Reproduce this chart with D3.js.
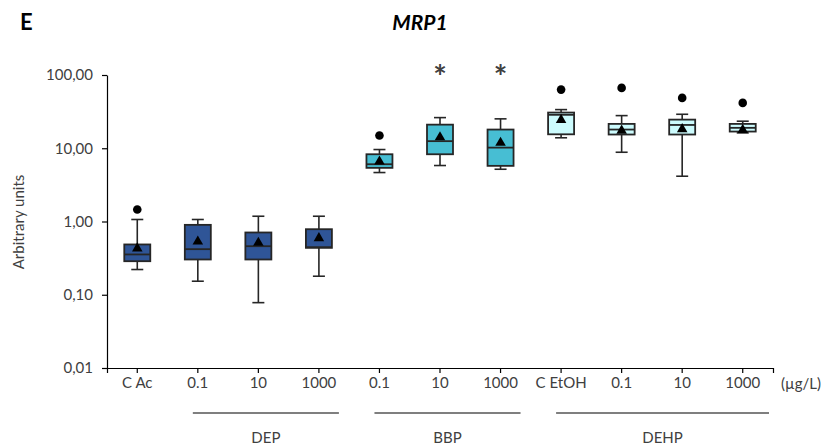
<!DOCTYPE html>
<html><head><meta charset="utf-8">
<script src="https://cdn.jsdelivr.net/npm/d3@7"></script>
<style>body{margin:0;background:#fff}svg{display:block}text{font-family:Lato,"Open Sans",sans-serif}</style>
</head><body><svg id="c" width="834" height="448"></svg>
<script>
const categories = ["C Ac","0.1","10","1000","0.1","10","1000","C EtOH","0.1","10","1000"];
const groupOf   = ["ctrlAc","DEP","DEP","DEP","BBP","BBP","BBP","ctrlEt","DEHP","DEHP","DEHP"];
const whiskerLow  = [0.221,0.153,0.078,0.179, 4.66,5.81,5.17, 13.9,8.82,4.15,16.2];
const q1          = [0.287,0.303,0.303,0.437, 5.40,8.28,5.75, 15.5,15.4,15.4,16.9];
const median      = [0.355,0.419,0.460,0.446, 6.05,12.5,10.2, 28.6,18.0,20.8,19.0];
const q3          = [0.486,0.900,0.708,0.785, 8.28,21.0,18.0, 30.7,21.5,24.6,21.5];
const whiskerHigh = [1.065,1.065,1.18,1.18,   9.6,26.2,25.2,  33.7,27.9,29.1,23.4];
const mean        = [0.43,0.533,0.512,0.592,  6.59,14.1,11.9, 24.4,17.4,18.2,17.8];
const outliers    = [[1.46],[],[],[], [14.9],[],[], [63.2],[66.7],[48.7],[41.6]];
const significant = [false,false,false,false,false,true,true,false,false,false,false];
const yTicks = [0.01,0.1,1,10,100];
const yTickLabels = ["0,01","0,10","1,00","10,00","100,00"];
const groups = [{name:"DEP",from:1,to:3},{name:"BBP",from:4,to:6},{name:"DEHP",from:7,to:10}];
const fillByGroup = {ctrlAc:"#2F5597",DEP:"#2F5597",BBP:"#47BED3",ctrlEt:"#CCFBFD",DEHP:"#CCFBFD"};

const svg = d3.select("#c");
const x = d3.scaleBand().domain(d3.range(categories.length)).range([107,773]).paddingInner(0).paddingOuter(0);
const y = d3.scaleLog().domain([0.01,100]).range([368,75]);
const cx = i => x(i) + x.bandwidth()/2;
const boxW = 26, capW = 12;
const ink = "#262626";
const txt = "#404040";

// Y axis
const yAxis = svg.append("g").attr("transform","translate(107,0)")
  .call(d3.axisLeft(y).tickValues(yTicks).tickFormat((d,i)=>yTickLabels[i]).tickSize(5).tickSizeOuter(0));
yAxis.select(".domain").attr("stroke","#000").attr("stroke-width",1.2);
yAxis.selectAll(".tick line").attr("stroke","#000").attr("stroke-width",1.2);
yAxis.selectAll(".tick text").attr("font-size",15).attr("fill",txt).attr("x",-14).attr("font-family","Lato");

// X axis
const xAxis = svg.append("g").attr("transform","translate(0,368)")
  .call(d3.axisBottom(x).tickFormat(i=>categories[i]).tickSize(5).tickSizeOuter(5));
xAxis.select(".domain").attr("stroke","#000").attr("stroke-width",1.2);
xAxis.selectAll(".tick line").attr("stroke","#000").attr("stroke-width",1.2);
xAxis.selectAll(".tick text").attr("font-size",15).attr("fill",txt).attr("y",9).attr("font-family","Lato");

svg.append("text").attr("x",781).attr("y",389).attr("font-size",15).attr("fill",txt).text("(µg/L)");

// group lines + labels
groups.forEach(gr=>{
  const x0 = cx(gr.from)-5, x1 = gr.to===categories.length-1 ? 769 : cx(gr.to)+20;
  svg.append("line").attr("x1",x0).attr("x2",x1).attr("y1",413).attr("y2",413).attr("stroke","#000").attr("stroke-width",1.2);
  svg.append("text").attr("x",(x0+x1)/2).attr("y",443).attr("text-anchor","middle").attr("font-size",15).attr("fill",txt).text(gr.name);
});

// axis title
svg.append("text").attr("transform","translate(24,222) rotate(-90)").attr("text-anchor","middle")
  .attr("font-size",15).attr("fill",txt).text("Arbitrary units");

// titles
svg.append("text").attr("x",20).attr("y",30).attr("font-size",22).attr("font-weight","bold").attr("fill","#000").text("E");
svg.append("text").attr("x",420).attr("y",30).attr("text-anchor","middle").attr("font-size",21).attr("font-weight","bold").attr("font-style","italic").attr("fill","#000").text("MRP1");

// boxes
const g = svg.append("g");
categories.forEach((c,i)=>{
  const X = cx(i);
  const col = fillByGroup[groupOf[i]];
  g.append("line").attr("x1",X).attr("x2",X).attr("y1",y(whiskerHigh[i])).attr("y2",y(q3[i])).attr("stroke",ink).attr("stroke-width",1.6);
  g.append("line").attr("x1",X).attr("x2",X).attr("y1",y(q1[i])).attr("y2",y(whiskerLow[i])).attr("stroke",ink).attr("stroke-width",1.6);
  [whiskerHigh[i],whiskerLow[i]].forEach(v=>g.append("line").attr("x1",X-capW/2).attr("x2",X+capW/2).attr("y1",y(v)).attr("y2",y(v)).attr("stroke",ink).attr("stroke-width",1.6));
  g.append("rect").attr("x",X-boxW/2).attr("y",y(q3[i])).attr("width",boxW).attr("height",y(q1[i])-y(q3[i]))
    .attr("fill",col).attr("stroke",ink).attr("stroke-width",1.8);
  g.append("line").attr("x1",X-boxW/2).attr("x2",X+boxW/2).attr("y1",y(median[i])).attr("y2",y(median[i])).attr("stroke",ink).attr("stroke-width",1.8);
  g.append("path").attr("d",d3.symbol(d3.symbolTriangle,48)()).attr("transform",`translate(${X},${y(mean[i])})`).attr("fill","#000");
  outliers[i].forEach(v=>g.append("circle").attr("cx",X).attr("cy",y(v)).attr("r",4.3).attr("fill","#000"));
  if(significant[i]) svg.append("text").attr("x",X).attr("y",y(100)+14).attr("text-anchor","middle").attr("font-size",32).attr("font-weight","bold").attr("fill",txt).text("*");
});
</script></body></html>
